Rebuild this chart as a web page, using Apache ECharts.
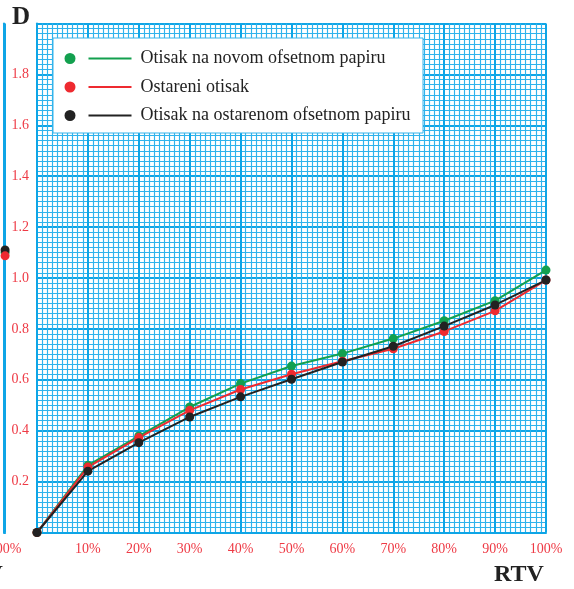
<!DOCTYPE html>
<html><head><meta charset="utf-8">
<script src="https://cdn.jsdelivr.net/npm/echarts@6/dist/echarts.min.js"></script>
<style>html,body{margin:0;padding:0;background:#fff}#c{width:574px;height:589px}</style>
</head><body><div id="c"></div>
<script>
var rtv = [0, 10, 20, 30, 40, 50, 60, 70, 80, 90, 100];
var novomPapiru = [0, 0.264, 0.379, 0.493, 0.585, 0.654, 0.703, 0.762, 0.832, 0.911, 1.031];
var ostareniOtisak = [0, 0.257, 0.373, 0.480, 0.562, 0.622, 0.673, 0.722, 0.790, 0.871, 0.992];
var ostarenomPapiru = [0, 0.241, 0.353, 0.454, 0.533, 0.602, 0.670, 0.732, 0.811, 0.894, 0.992];
// neighbouring (cropped) panel: only its last point is visible
var leftRtv = [100];
var leftNovom = [1.10];
var leftOstareni = [1.087];
var leftOstarenom = [1.11];
var names = ['Otisak na novom ofsetnom papiru', 'Ostareni otisak', 'Otisak na ostarenom ofsetnom papiru'];
var colors = ['#13a04f', '#ee2a30', '#222222'];

function pairs(xs, ys) { return xs.map(function (x, i) { return [x, ys[i]]; }); }

var majorColor = '#0ea5e6';
var major = { show: true, lineStyle: { color: majorColor, width: 2 } };
var minor = { show: true, lineStyle: { color: '#2fb3ec', width: 1.15 } };
var red = '#ee3a45';
var serif = 'Liberation Serif';

function xAx(gi, min, interval, showLabel) {
  return {
    type: 'value', gridIndex: gi, min: min, max: 100, interval: interval,
    axisLine: { show: true, lineStyle: { color: majorColor, width: 2 } },
    axisTick: { show: false },
    splitLine: major,
    minorTick: { show: false, splitNumber: 10 },
    minorSplitLine: { show: gi === 0, lineStyle: minor.lineStyle },
    axisLabel: {
      show: true, color: red, fontFamily: serif, fontSize: 14, margin: 10,
      formatter: function (v) { return (v === 0 || (!showLabel && v !== 100)) ? '' : Math.round(v) + '%'; }
    }
  };
}
function yAx(gi, showLabel) {
  return {
    type: 'value', gridIndex: gi, min: 0, max: 2, interval: 0.2,
    axisLine: { show: true, lineStyle: { color: majorColor, width: 2 } },
    axisTick: { show: false },
    splitLine: major,
    minorTick: { show: false, splitNumber: 10 },
    minorSplitLine: minor,
    axisLabel: {
      show: showLabel, color: red, fontFamily: serif, fontSize: 14, margin: 8,
      formatter: function (v) { return (v < 0.1 || v > 1.9) ? '' : v.toFixed(1); }
    }
  };
}

function ser(name, color, xi, data, legend) {
  return {
    name: legend ? name : name + ' ',
    type: 'line', xAxisIndex: xi, yAxisIndex: xi,
    data: data, symbol: 'circle', symbolSize: 9, showSymbol: true,
    lineStyle: { color: color, width: 2 }, itemStyle: { color: color },
    emphasis: { disabled: true }, clip: false, z: 5
  };
}

var icon = 'path://M0,5.5 A5.5,5.5 0 1,0 11,5.5 A5.5,5.5 0 1,0 0,5.5 Z M24,4.4 L67,4.4 L67,6.6 L24,6.6 Z';

var chart = echarts.init(document.getElementById('c'), null, { renderer: 'canvas' });
chart.setOption({
  animation: false,
  backgroundColor: '#ffffff',
  grid: [
    { left: 37, top: 23.5, width: 509, height: 509 },
    { left: 0, top: 23.5, width: 4.07, height: 509 }
  ],
  xAxis: [xAx(0, 0, 10, true), xAx(1, 99.2, 0.8, false)],
  yAxis: [yAx(0, true), yAx(1, false)],
  legend: {
    orient: 'vertical', left: 64.5, top: 49.5, padding: 0, itemWidth: 67, itemHeight: 11, itemGap: 10.5,
    icon: icon, data: names.map(function (n, i) { return { name: n, itemStyle: { color: colors[i] } }; }),
    textStyle: { fontFamily: serif, fontSize: 18, color: '#222', padding: [0, 0, 0, 4], lineHeight: 18 },
    selectedMode: false, z: 20
  },
  graphic: [
    { type: 'rect', shape: { x: 53, y: 38, width: 370, height: 95 }, style: { fill: '#ffffff', stroke: '#38b4ea', lineWidth: 1 }, z: 10 },
    { type: 'text', x: 12, y: 5, style: { text: 'D', font: 'bold 25px "Liberation Serif"', fill: '#222' }, z: 10 },
    { type: 'text', x: 494, y: 563, style: { text: 'RTV', font: 'bold 24px "Liberation Serif"', fill: '#222' }, z: 10 },
    { type: 'text', x: -47, y: 563, style: { text: 'RTV', font: 'bold 24px "Liberation Serif"', fill: '#222' }, z: 10 }
  ],
  series: [
    ser(names[0], colors[0], 0, pairs(rtv, novomPapiru), true),
    ser(names[1], colors[1], 0, pairs(rtv, ostareniOtisak), true),
    ser(names[2], colors[2], 0, pairs(rtv, ostarenomPapiru), true),
    ser(names[0], colors[0], 1, pairs(leftRtv, leftNovom), false),
    ser(names[2], colors[2], 1, pairs(leftRtv, leftOstarenom), false),
    ser(names[1], colors[1], 1, pairs(leftRtv, leftOstareni), false)
  ]
});
</script></body></html>
